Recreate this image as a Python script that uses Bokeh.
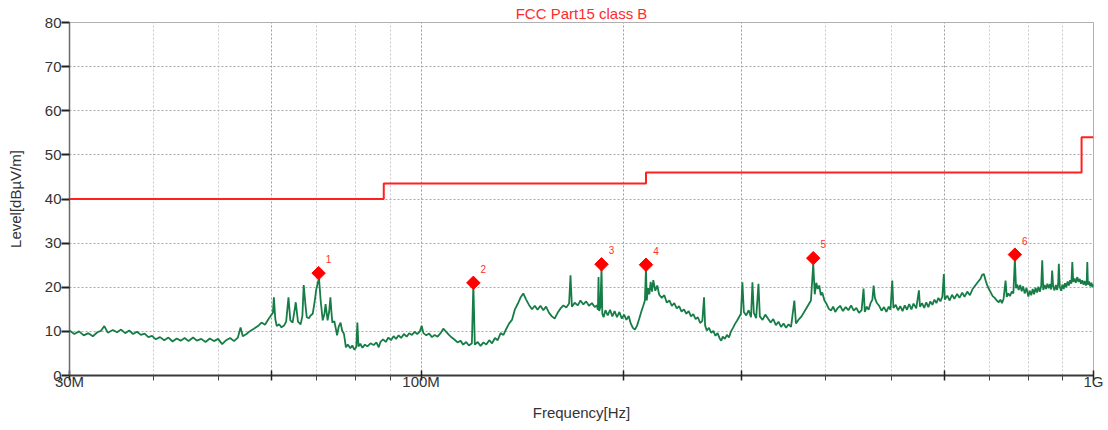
import numpy as np
from bokeh.plotting import figure
from bokeh.models import FixedTicker, CustomJSTickFormatter, Range1d
from bokeh.core.properties import value
from bokeh.embed import file_html
from bokeh.resources import INLINE

FONT = "Liberation Sans"

# ---------------- data ----------------
title_text = "FCC Part15 class B"
x_label = "Frequency[Hz]"
y_label = "Level[dBµV/m]"

# measured trace (MHz, dBµV/m)
freq_mhz = [
    30.0, 30.5, 31.0, 31.5, 32.0, 32.5, 33.0, 33.4, 33.8, 34.2,
    34.8, 35.3, 35.8, 36.3, 36.8, 37.3, 37.8, 38.3, 38.8, 39.3,
    39.8, 40.3, 40.9, 41.5, 42.1, 42.7, 43.3, 43.9, 44.5, 45.1,
    45.8, 46.4, 47.1, 47.8, 48.5, 49.2, 49.9, 50.6, 51.3, 52.0,
    52.7, 53.4, 53.9, 54.3, 55.0, 55.7, 56.4, 57.2, 57.9, 58.6,
    59.3, 59.8, 60.2, 60.4, 60.7, 61.0, 61.5, 62.0, 62.6, 63.0,
    63.5, 63.9, 64.4, 64.8, 65.1, 65.6, 66.2, 66.6, 66.9, 67.3,
    67.6, 68.1, 68.5, 69.0, 69.5, 69.8, 70.2, 70.5, 70.9, 71.4,
    71.8, 72.1, 72.4, 72.6, 73.0, 73.3, 73.6, 73.8, 74.3, 74.7,
    75.0, 75.4, 75.9, 76.3, 76.8, 77.3, 77.8, 78.5, 79.0, 79.6,
    80.1, 80.4, 80.7, 81.2, 81.8, 82.5, 83.2, 84.1, 85.0, 85.8,
    86.5, 87.0, 87.8, 88.6, 89.4, 90.2, 91.0, 91.8, 92.6, 93.4,
    94.3, 95.2, 96.0, 96.9, 97.8, 98.7, 99.6, 100.2, 100.8, 101.8,
    102.8, 103.8, 104.8, 105.8, 106.9, 107.9, 109.0, 110.0, 111.1, 112.2,
    113.3, 114.4, 115.5, 116.7, 117.8, 119.0, 119.6, 120.2, 121.4, 122.6,
    123.8, 125.0, 126.3, 127.5, 128.8, 130.0, 131.3, 132.6, 133.9, 135.2,
    136.5, 137.9, 139.2, 140.5, 141.9, 143.3, 144.7, 146.2, 147.6, 149.0,
    150.5, 152.0, 153.4, 155.0, 156.5, 158.0, 159.6, 161.2, 162.8, 164.4,
    166.0, 166.8, 167.6, 169.2, 171.0, 172.6, 174.3, 176.0, 177.7, 179.5,
    181.2, 182.5, 183.2, 183.6, 184.0, 184.8, 185.5, 186.0, 186.8, 188.0,
    189.5, 191.0, 192.5, 194.0, 195.6, 197.2, 198.8, 200.4, 202.0, 203.6,
    205.0, 206.5, 208.0, 209.5, 211.0, 212.5, 214.0, 215.2, 216.0, 216.6,
    217.5, 218.5, 219.5, 220.5, 221.5, 223.0, 224.5, 226.0, 228.0, 230.0,
    232.0, 234.0, 236.0, 238.0, 240.0, 242.0, 244.0, 246.0, 248.0, 250.0,
    252.0, 254.0, 256.0, 258.0, 260.0, 262.0, 263.5, 264.5, 266.0, 268.0,
    270.0, 272.0, 274.0, 276.0, 278.0, 279.5, 281.0, 283.0, 285.0, 287.0,
    289.0, 291.0, 293.0, 295.0, 297.0, 299.0, 300.5, 302.0, 304.5, 307.0,
    309.5, 311.0, 312.5, 315.0, 317.5, 319.0, 322.0, 325.0, 328.0, 331.0,
    334.0, 337.0, 340.0, 343.0, 346.0, 349.0, 352.0, 355.0, 359.0, 361.0,
    364.0, 368.0, 372.0, 376.0, 380.0, 383.0, 385.0, 387.0, 389.0, 391.0,
    393.0, 395.0, 398.0, 401.0, 404.0, 407.0, 410.0, 413.0, 416.0, 420.0,
    424.0, 428.0, 432.0, 436.0, 440.0, 444.0, 448.0, 452.0, 455.0, 457.0,
    460.0, 463.0, 466.0, 469.0, 471.0, 473.0, 476.0, 480.0, 484.0, 488.0,
    492.0, 496.0, 499.0, 502.0, 504.0, 508.0, 512.0, 516.0, 520.0, 524.0,
    528.0, 532.0, 536.0, 540.0, 545.0, 550.0, 552.0, 556.0, 560.0, 564.0,
    568.0, 572.0, 576.0, 580.0, 584.0, 588.0, 592.0, 596.0, 599.0, 601.0,
    606.0, 611.0, 616.0, 621.0, 627.0, 632.0, 638.0, 643.0, 649.0, 655.0,
    661.0, 667.0, 673.0, 679.0, 683.0, 687.0, 691.0, 695.0, 699.0, 703.0,
    708.0, 713.0, 718.0, 723.0, 727.0, 731.0, 735.0, 740.0, 743.0, 747.0,
    751.0, 756.0, 760.0, 764.0, 767.0, 770.0, 774.0, 778.0, 782.0, 786.0,
    790.0, 795.0, 800.0, 804.0, 808.0, 812.0, 816.0, 820.0, 824.0, 828.0,
    832.0, 836.0, 839.0, 842.0, 846.0, 850.0, 854.0, 858.0, 862.0, 865.0,
    868.0, 871.0, 875.0, 879.0, 883.0, 886.0, 888.0, 891.0, 895.0, 899.0,
    903.0, 907.0, 911.0, 915.0, 919.0, 923.0, 927.0, 930.0, 933.0, 937.0,
    941.0, 946.0, 950.0, 954.0, 958.0, 962.0, 966.0, 970.0, 974.0, 977.0,
    979.0, 981.0, 985.0, 989.0, 993.0, 997.0, 1000.0,
]
level_dbuv = [
    10.2, 9.4, 10.0, 9.1, 9.6, 8.9, 9.8, 10.1, 11.2, 9.7,
    10.3, 9.8, 10.4, 9.6, 10.2, 9.4, 9.9, 9.2, 9.5, 8.7,
    9.0, 8.2, 8.7, 8.0, 8.6, 7.7, 8.4, 7.9, 8.5, 7.8,
    8.6, 7.9, 8.3, 7.6, 8.4, 7.8, 8.3, 7.1, 8.0, 8.5,
    7.8, 8.6, 10.9, 8.9, 9.4, 10.1, 10.6, 11.2, 12.0, 11.5,
    12.8, 13.6, 14.2, 17.7, 12.8, 11.2, 11.6, 10.9, 11.4, 12.2,
    17.7, 12.5, 12.0, 14.5, 16.6, 12.2, 11.6, 13.5, 20.5, 16.0,
    13.2, 13.0, 13.6, 14.0, 17.0, 19.3, 21.0, 22.0, 17.0, 12.5,
    13.8, 16.2, 14.0, 12.5, 14.5, 17.7, 14.0, 12.0, 12.3, 10.5,
    9.1, 11.0, 12.0, 10.2, 9.4, 6.4, 7.0, 6.2, 6.8, 5.8,
    6.5, 12.0, 6.6, 7.2, 6.3, 7.0, 6.6, 7.3, 6.9, 7.5,
    6.4, 7.6, 8.2, 7.6, 8.6, 8.0, 8.9, 8.3, 9.1, 8.5,
    9.4, 8.8, 9.6, 9.2, 9.9, 9.4, 10.0, 11.3, 9.6, 9.1,
    9.5, 8.7, 9.2, 8.8, 9.6, 10.6, 9.9, 9.2, 8.6, 8.1,
    7.5, 7.9, 7.0, 7.6, 6.8, 7.3, 20.8, 7.0, 7.6, 6.7,
    7.5, 7.0, 8.0, 7.3, 8.5, 8.0, 9.6, 9.2, 10.6, 11.8,
    12.6, 15.0, 16.2, 17.6, 18.6, 17.2, 16.0, 15.0, 15.8, 14.9,
    15.8, 14.8, 15.6, 14.2, 13.4, 12.9, 14.2, 15.2, 15.9, 15.4,
    16.3, 22.7, 15.6, 16.5, 15.9, 17.0, 16.1, 16.8, 15.8, 16.4,
    15.5, 15.9, 14.9, 22.3, 14.6, 15.5, 24.5, 14.0, 13.2, 14.8,
    13.6, 14.9, 13.4, 14.6, 13.2, 14.4, 12.9, 13.8, 12.6, 13.5,
    11.8, 10.8, 10.4, 11.3, 12.8, 14.4, 15.8, 17.0, 24.2, 17.0,
    19.8, 18.4, 21.2, 19.0, 21.6, 19.2, 20.4, 18.3, 17.6, 18.2,
    16.5, 17.0, 15.8, 16.4, 15.2, 15.7, 14.5, 15.0, 14.0, 14.6,
    13.4, 13.9, 12.8, 13.2, 11.9, 12.4, 17.7, 11.3, 10.2, 10.8,
    9.7, 10.1, 9.0, 9.6, 8.4, 7.9, 8.8, 8.3, 9.2, 8.6,
    10.0, 10.8, 11.7, 12.4, 13.2, 14.0, 21.1, 14.4, 13.6, 14.8,
    13.2, 21.1, 14.2, 13.0, 20.8, 13.4, 12.6, 13.8, 12.9, 12.0,
    12.8, 11.4, 12.2, 11.0, 11.8, 10.8, 11.6, 11.0, 17.0, 11.8,
    12.6, 13.4, 14.6, 15.8, 17.0, 25.3, 18.4, 21.0, 19.6, 20.4,
    18.2, 18.8, 17.0, 16.2, 15.1, 14.7, 15.6, 14.4, 15.2, 15.8,
    14.6, 15.5, 14.8, 15.9, 14.7, 15.3, 14.2, 14.8, 19.7, 14.4,
    15.6, 14.9, 16.4, 17.2, 20.4, 17.6, 16.5, 15.8, 14.7, 15.5,
    14.4, 15.6, 14.9, 21.5, 15.3, 16.0, 14.8, 15.7, 14.6, 15.9,
    14.9, 16.2, 15.0, 16.3, 15.2, 19.3, 15.6, 16.4, 15.3, 16.6,
    15.5, 16.8, 16.0, 17.2, 16.4, 17.6, 16.8, 17.9, 23.0, 17.2,
    18.1, 17.0, 18.3, 17.4, 18.5, 17.6, 18.8, 17.8, 19.0, 18.2,
    19.6, 20.4, 21.2, 21.9, 22.8, 23.0, 21.6, 20.4, 19.6, 18.9,
    18.0, 17.6, 17.0, 16.6, 17.2, 16.4, 17.4, 21.5, 17.8, 18.6,
    18.0, 19.0, 18.6, 26.4, 19.8, 20.6, 19.4, 20.5, 19.1, 20.2,
    18.6, 19.8, 17.9, 19.2, 18.2, 19.6, 18.4, 19.9, 18.8, 20.1,
    19.0, 20.3, 26.1, 19.4, 20.5, 19.6, 20.8, 19.8, 20.7, 19.5,
    23.8, 20.2, 19.3, 20.5, 19.4, 20.8, 25.3, 20.1, 19.2, 20.6,
    19.6, 20.9, 20.0, 21.3, 20.4, 21.6, 20.8, 25.7, 21.2, 22.0,
    21.0, 22.3, 21.2, 21.9, 20.8, 21.6, 20.6, 21.4, 20.4, 21.2,
    25.7, 20.6, 21.3, 20.2, 21.0, 20.0, 20.6,
]

# FCC Part 15 class B limit (edges in MHz, level per band)
limit_edges_mhz = [30, 88, 216, 960, 1000]
limit_levels = [40.0, 43.5, 46.0, 54.0]

# peak markers
marker_freq_mhz = [70.4, 119.6, 185.5, 216.0, 383.0, 764.0]
marker_level = [23.2, 21.0, 25.2, 25.1, 26.6, 27.4]
marker_names = ["1", "2", "3", "4", "5", "6"]

y_ticks = [0, 10, 20, 30, 40, 50, 60, 70, 80]
x_major_mhz = [30, 60, 100, 200, 300, 600, 1000]
x_minor_mhz = [40, 50, 70, 80, 90, 400, 500, 700, 800, 900]
x_tick_labels = {30: "30M", 100: "100M", 1000: "1G"}

assert len(freq_mhz) == len(level_dbuv)

# ---------------- figure ----------------
W, H = 1106, 428
MB_L, MB_R, MB_T, MB_B = 69, 13, 22, 53
p = figure(width=W, height=H, x_axis_type="log",
           x_range=Range1d(30e6, 1e9), y_range=Range1d(0, 80),
           output_backend="svg", toolbar_location=None,
           min_border_left=MB_L, min_border_right=MB_R,
           min_border_top=MB_T, min_border_bottom=MB_B)
p.background_fill_color = "white"
p.border_fill_color = "white"
p.outline_line_color = "#b0b0b0"
p.outline_line_width = 1

# title
p.title.text = title_text
p.title.align = "center"
p.title.text_color = "#ff2a2a"
p.title.text_font = FONT
p.title.text_font_size = "15px"
p.title.text_font_style = "normal"
p.title.standoff = 1
p.title.offset = 0

# x axis
xt = FixedTicker(ticks=[m * 1e6 for m in x_major_mhz],
                 minor_ticks=[m * 1e6 for m in x_minor_mhz])
p.xaxis.ticker = xt
lab_js = "{" + ",".join(f"{int(k*1e6)}:'{v}'" for k, v in x_tick_labels.items()) + "}"
p.xaxis.formatter = CustomJSTickFormatter(code=f"""
const m = {lab_js};
const k = Math.round(tick);
return (k in m) ? m[k] : '';
""")
p.xaxis.axis_label = x_label
p.xaxis.axis_line_color = "#3a3a3a"
p.xaxis.axis_line_width = 2
p.xaxis.major_tick_line_color = "#222222"
p.xaxis.major_tick_line_width = 1.5
p.xaxis.major_tick_in = 5
p.xaxis.major_tick_out = 5
p.xaxis.minor_tick_line_color = "#444444"
p.xaxis.minor_tick_in = 0
p.xaxis.minor_tick_out = 5
p.xaxis.major_label_standoff = -8
p.xaxis.axis_label_standoff = 11

# y axis
p.yaxis.ticker = FixedTicker(ticks=y_ticks)
p.yaxis.axis_label = y_label
p.yaxis.axis_line_color = "#6a6a6a"
p.yaxis.axis_line_width = 1.5
p.yaxis.major_tick_line_color = "#222222"
p.yaxis.major_tick_line_width = 2
p.yaxis.major_tick_in = 0
p.yaxis.major_tick_out = 8
p.yaxis.minor_tick_line_color = None
p.yaxis.major_label_standoff = 0
p.yaxis.axis_label_standoff = 18

for ax in (p.xaxis, p.yaxis):
    ax.major_label_text_font = FONT
    ax.major_label_text_font_size = "15px"
    ax.major_label_text_color = "#333333"
    ax.axis_label_text_font = FONT
    ax.axis_label_text_font_size = "15px"
    ax.axis_label_text_font_style = "normal"
    ax.axis_label_text_color = "#333333"

# grids
p.xgrid.grid_line_color = "#9a9a9a"
p.xgrid.grid_line_dash = "2 2"
p.xgrid.grid_line_width = 1
p.xgrid.minor_grid_line_color = "#c8c8c8"
p.xgrid.minor_grid_line_dash = "2 2"
p.ygrid.grid_line_color = "#a8a8a8"
p.ygrid.grid_line_dash = "2 2"

# limit line
lim_x = [f * 1e6 for f in limit_edges_mhz]
lim_y = limit_levels + [limit_levels[-1]]
p.step(lim_x, lim_y, mode="after", line_color="#ff2020", line_width=2)

# trace
p.line([f * 1e6 for f in freq_mhz], level_dbuv, line_color="#177d47", line_width=1.8)

# markers
mx = [f * 1e6 for f in marker_freq_mhz]
p.scatter(mx, marker_level, marker="square", angle=np.pi / 4, size=9.5,
          fill_color="#ff0000", line_color="#ff0000")
p.text(mx, marker_level, text=marker_names, x_offset=10, y_offset=-14,
       text_font=value(FONT), text_font_size="10px", text_color="#ff3030",
       text_align="center", text_baseline="middle")

open("out.html", "w").write(file_html(p, INLINE))
